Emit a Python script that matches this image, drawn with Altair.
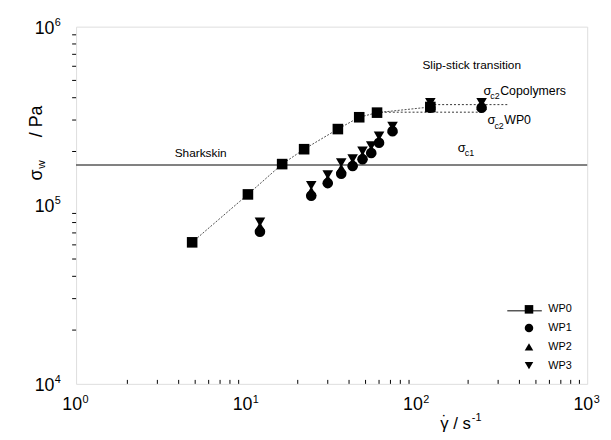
import altair as alt
import pandas as pd

# ---------------- data ----------------
x_wp0 = [4.8, 10.2, 16.2, 21.8, 34.4, 45.9, 58.4, 120]
y_wp0 = [6.2e4, 1.15e5, 1.70e5, 2.06e5, 2.67e5, 3.11e5, 3.30e5, 3.55e5]

x_cop = [12, 24, 30, 36, 42, 48, 54, 60, 72, 120, 240]
y_wp1 = [7.1e4, 1.13e5, 1.33e5, 1.50e5, 1.66e5, 1.81e5, 1.96e5, 2.24e5, 2.60e5, 3.52e5, 3.52e5]
y_wp2 = [7.6e4, 1.20e5, 1.40e5, 1.61e5, 1.74e5, 1.90e5, 2.05e5, 2.33e5, 2.68e5, 3.63e5, 3.63e5]
y_wp3 = [8.05e4, 1.29e5, 1.48e5, 1.73e5, 1.82e5, 2.01e5, 2.15e5, 2.44e5, 2.77e5, 3.76e5, 3.76e5]

series_names = ["WP0", "WP1", "WP2", "WP3"]
series_shapes = ["square", "circle", "triangle-up", "triangle-down"]

sigma_c1 = 1.68e5
sigma_c2_cop = 3.66e5
sigma_c2_wp0 = 3.32e5
cop_line_x = [120, 344]
wp0_line_x = [58.4, 240]

x_ticks = [1, 10, 100, 1000]
x_exps = ["0", "1", "2", "3"]
y_ticks = [1e4, 1e5, 1e6]
y_exps = ["4", "5", "6"]
x_minor = [m * d for d in (1, 10, 100) for m in range(2, 10)]
y_minor = [m * d for d in (1e4, 1e5) for m in range(2, 10)]

FONT = "Liberation Sans, Arial, sans-serif"
W, H = 518, 362

rows = []
for x, y in zip(x_wp0, y_wp0):
    rows.append({"x": x, "y": y, "series": "WP0"})
for name, ys in zip(series_names[1:], [y_wp1, y_wp2, y_wp3]):
    for x, y in zip(x_cop, ys):
        rows.append({"x": x, "y": y, "series": name})
pts = pd.DataFrame(rows)
wp0 = pd.DataFrame({"x": x_wp0, "y": y_wp0})

xs = alt.Scale(type="log", domain=[1, 1000])
ys_ = alt.Scale(type="log", domain=[1e4, 1e6])
X = lambda f="x": alt.X(f"{f}:Q", scale=xs, axis=None)
Y = lambda f="y": alt.Y(f"{f}:Q", scale=ys_, axis=None)

# axes (ticks only, labels drawn as text)
axes = alt.Chart(pd.DataFrame({"x": [1, 1000], "y": [1e4, 1e6]})).mark_point(opacity=0).encode(
    x=alt.X("x:Q", scale=xs, axis=alt.Axis(values=x_ticks, labels=False, tickSize=7, title=None,
                                            grid=False, domainColor="black", tickColor="black")),
    y=alt.Y("y:Q", scale=ys_, axis=alt.Axis(values=y_ticks, labels=False, tickSize=8, title=None,
                                             grid=False, domainColor="black", tickColor="black")),
)

xminor = alt.Chart(pd.DataFrame({"x": x_minor})).mark_rule(color="black", strokeWidth=1).encode(
    x=X(), y=alt.value(H), y2=alt.value(H - 4))
yminor = alt.Chart(pd.DataFrame({"y": y_minor})).mark_rule(color="black", strokeWidth=1).encode(
    y=Y(), x=alt.value(-4), x2=alt.value(0))

# tick labels
xt = pd.DataFrame({"x": x_ticks, "e": x_exps})
xlab = alt.Chart(xt).mark_text(font=FONT, fontSize=18, align="right", baseline="alphabetic", dx=6).encode(
    x=X(), y=alt.value(H + 27), text=alt.value("10"))
xexp = alt.Chart(xt).mark_text(font=FONT, fontSize=11, align="left", baseline="alphabetic", dx=6.5).encode(
    x=X(), y=alt.value(H + 19), text="e:N")
yt = pd.DataFrame({"y": y_ticks, "e": y_exps})
ylab = alt.Chart(yt).mark_text(font=FONT, fontSize=18, align="right", baseline="alphabetic", dy=7).encode(
    y=Y(), x=alt.value(-22), text=alt.value("10"))
yexp = alt.Chart(yt).mark_text(font=FONT, fontSize=11, align="left", baseline="alphabetic", dy=-1).encode(
    y=Y(), x=alt.value(-21.5), text="e:N")

one = pd.DataFrame({"a": [0]})
def ptext(txt, x, y, size, angle=0, align="left"):
    return alt.Chart(one).mark_text(text=txt, font=FONT, fontSize=size, align=align,
                                    baseline="alphabetic", angle=angle).encode(
        x=alt.value(x), y=alt.value(y))

# axis titles
xtitle = ptext("γ / s", 369, 408, 17) + ptext("˙", 373.5, 406, 17, align="center") + \
    ptext("-1", 401, 400, 11)
ytitle = ptext("σ", -35, 156, 18, angle=270) + ptext("w", -31, 144, 12, angle=270) + \
    ptext("/ Pa", -35, 112, 18, angle=270)

# reference lines
c1 = alt.Chart(pd.DataFrame({"y": [sigma_c1]})).mark_rule(color="black", strokeWidth=1).encode(
    y=Y(), x=alt.value(0), x2=alt.value(W))
c2a = alt.Chart(pd.DataFrame({"x": [cop_line_x[0]], "x2": [cop_line_x[1]], "y": [sigma_c2_cop]})).mark_rule(
    color="#333", strokeWidth=1, strokeDash=[2, 2]).encode(x=X(), x2="x2:Q", y=Y())
c2b = alt.Chart(pd.DataFrame({"x": [wp0_line_x[0]], "x2": [wp0_line_x[1]], "y": [sigma_c2_wp0]})).mark_rule(
    color="#333", strokeWidth=1, strokeDash=[2, 2]).encode(x=X(), x2="x2:Q", y=Y())

line = alt.Chart(wp0).mark_line(color="#222", strokeWidth=0.8, strokeDash=[2, 1.5]).encode(x=X(), y=Y())

points = alt.Chart(pts).mark_point(filled=True, color="black", opacity=1, size=115).encode(
    x=X(), y=Y(),
    shape=alt.Shape("series:N", scale=alt.Scale(domain=series_names, range=series_shapes),
                    legend=alt.Legend(orient="none", legendX=453.5, legendY=281, title=None,
                                      labelFont=FONT, labelFontSize=11, symbolSize=75,
                                      symbolFillColor="black", symbolStrokeColor="black",
                                      symbolStrokeWidth=0, labelOffset=14, rowPadding=7,
                                      padding=0)),
)
legline = alt.Chart(one).mark_rule(color="black", strokeWidth=1).encode(
    x=alt.value(437), x2=alt.value(472), y=alt.value(288))

# annotations in data space
ann = pd.DataFrame([
    {"x": 107.8, "y": 5.81e5, "t": "Slip-stick transition", "s": 12},
    {"x": 3.79, "y": 1.87e5, "t": "Sharkskin", "s": 12},
])
annt = alt.Chart(ann).mark_text(font=FONT, align="left", baseline="alphabetic").encode(
    x=X(), y=Y(), text="t:N", size=alt.Size("s:Q", scale=None, legend=None))

def sig(x, y, sub, rest):
    d = pd.DataFrame({"x": [x], "y": [y]})
    base = alt.Chart(d)
    layers = [base.mark_text(text="σ", font=FONT, fontSize=13, align="left", baseline="alphabetic").encode(x=X(), y=Y()),
              base.mark_text(text=sub, font=FONT, fontSize=9, align="left", baseline="alphabetic", dx=7, dy=4.5).encode(x=X(), y=Y())]
    if rest:
        layers.append(base.mark_text(text=rest, font=FONT, fontSize=12.5, align="left", baseline="alphabetic", dx=17).encode(x=X(), y=Y()))
    return alt.layer(*layers)

s1 = sig(246.0, 4.16e5, "c2", "Copolymers")
s2 = sig(259.8, 2.84e5, "c2", "WP0")
s3 = sig(174.0, 1.99e5, "c1", None)

chart = alt.layer(axes, xminor, yminor, xlab, xexp, ylab, yexp, xtitle, ytitle, c1, c2a, c2b, line,
                  points, legline, annt, s1, s2, s3).properties(
    width=W, height=H,
    padding={"left": 69, "top": 16, "right": 16, "bottom": 54},
    autosize=alt.AutoSizeParams(type="none"),
).configure_view(stroke="black", strokeWidth=1).configure(background="white")

chart.save("out.html", embed_options={"renderer": "svg", "actions": False})
